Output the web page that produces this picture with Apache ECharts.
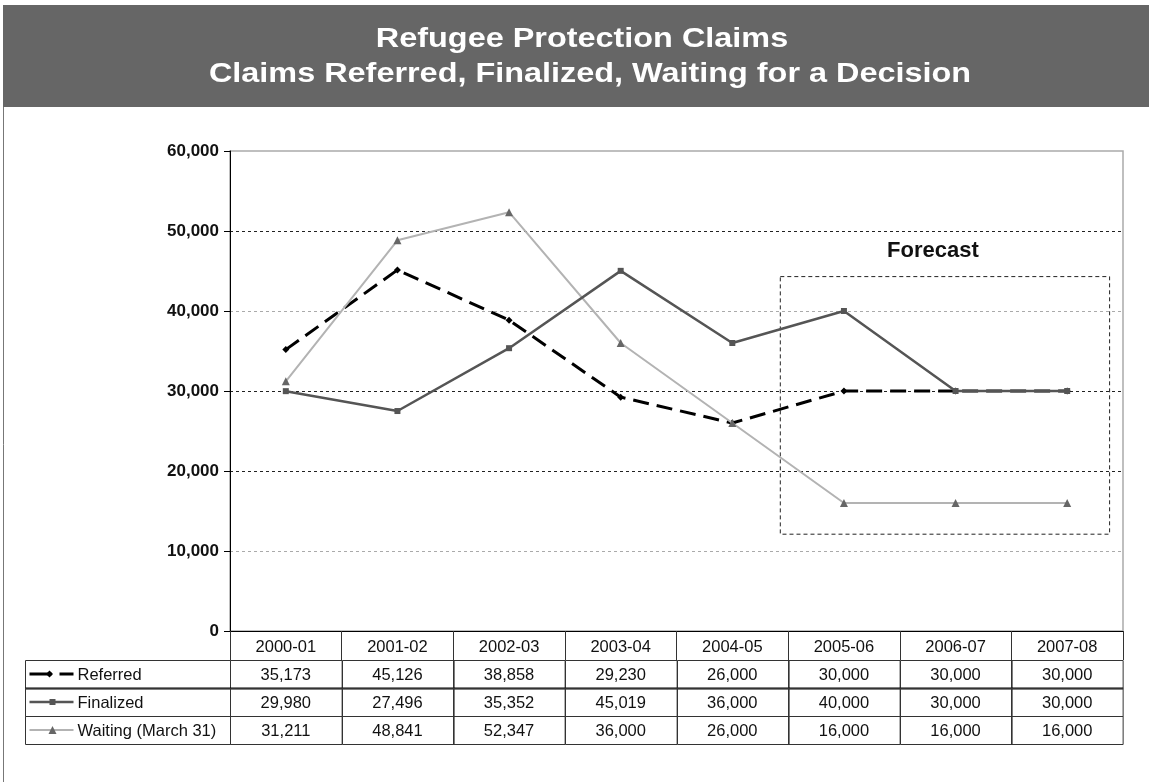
<!DOCTYPE html>
<html><head><meta charset="utf-8">
<script src="https://cdn.jsdelivr.net/npm/echarts@6/dist/echarts.min.js"></script>
<style>html,body{margin:0;padding:0;background:#fff}#c{width:1149px;height:782px}</style>
</head><body><div id="c"></div>
<script>
const titleLines = ['Refugee Protection Claims', 'Claims Referred, Finalized, Waiting for a Decision'];
const categories = ['2000-01','2001-02','2002-03','2003-04','2004-05','2005-06','2006-07','2007-08'];
const seriesNames = ['Referred','Finalized','Waiting (March 31)'];
const referred = [35173,45126,38858,29230,26000,30000,30000,30000];
const finalized = [29980,27496,35352,45019,36000,40000,30000,30000];
const waiting = [31211,48841,52347,36000,26000,16000,16000,16000];
const yTicks = {min:0, max:60000, interval:10000};
// forecast region in category-index units and values
const forecastX = [4.43, 7.38];
const forecastY = [12100, 44300];
const forecastLabel = 'Forecast';

const seriesValues = [referred, finalized, waiting];
const FONT = 'Liberation Sans, Arial, sans-serif';
const fmt = v => v.toLocaleString('en-US');

const styles = [
  {color:'#000', width:3, dash:[16,8], symbol:'diamond', symSize:7, symColor:'#000'},
  {color:'#555', width:2.5, dash:'solid', symbol:'rect', symSize:6, symColor:'#555'},
  {color:'#b3b3b3', width:2, dash:'solid', symbol:'triangle', symSize:8, symColor:'#666'}
];

const tableData = [];
seriesValues.forEach((arr, r) => arr.forEach((v, c) => tableData.push([c, r, v])));

const LABEL_W = 205;
const TFS = 16.5;

function markerShape(st, cx, cy) {
  const s = st.symSize/2;
  if (st.symbol === 'rect') return {type:'rect', shape:{x:cx-s,y:cy-s,width:2*s,height:2*s}, style:{fill:st.symColor}};
  if (st.symbol === 'triangle') return {type:'polygon', shape:{points:[[cx,cy-s],[cx+s,cy+s],[cx-s,cy+s]]}, style:{fill:st.symColor}};
  return {type:'polygon', shape:{points:[[cx,cy-s],[cx+s,cy],[cx,cy+s],[cx-s,cy]]}, style:{fill:st.symColor}};
}

function renderCell(params, api) {
  const c = api.value(0), r = api.value(1), v = api.value(2);
  const p = api.coord([c, r]);
  const s = api.size([1, 1]);
  const x0 = Math.round(p[0]-s[0]/2)+0.5, y0 = Math.round(p[1]-s[1]/2)+0.5;
  const w = s[0], h = s[1];
  const children = [
    {type:'rect', shape:{x:x0,y:y0,width:w,height:h}, style:{fill:'none', stroke:'#333', lineWidth:1}},
    {type:'text', style:{x:p[0], y:p[1]+1, text:fmt(v), align:'center', verticalAlign:'middle', fontSize:TFS, fontFamily:FONT, fill:'#111'}}
  ];
  if (c === 0) {
    const lx = x0 - LABEL_W;
    const st = styles[r];
    children.push({type:'rect', shape:{x:lx,y:y0,width:LABEL_W,height:h}, style:{fill:'none', stroke:'#333', lineWidth:1}});
    const cy = p[1];
    const dashed = st.dash !== 'solid';
    children.push({type:'line', shape:{x1:lx+4,y1:cy,x2:lx+48,y2:cy}, style:{stroke:st.color, lineWidth:st.width, lineDash: dashed ? [22,8] : null}});
    children.push(markerShape(st, dashed ? lx+24 : lx+27, cy));
    children.push({type:'text', style:{x:lx+52, y:cy+1, text:seriesNames[r], align:'left', verticalAlign:'middle', fontSize:TFS, fontFamily:FONT, fill:'#111'}});
  }
  if (r === 0) {
    children.push({type:'line', shape:{x1:x0 - (c===0?LABEL_W:0), y1:y0+h, x2:x0+w, y2:y0+h}, style:{stroke:'#000', lineWidth:2}});
  }
  return {type:'group', children};
}

const chart = echarts.init(document.getElementById('c'), null, {renderer:'canvas'});

const lineSeries = seriesNames.map((name, i) => ({
  name, type:'line', xAxisIndex:0, yAxisIndex:0,
  data: seriesValues[i],
  symbol: styles[i].symbol, symbolSize: styles[i].symSize,
  itemStyle:{color: styles[i].symColor},
  lineStyle:{color: styles[i].color, width: styles[i].width, type: styles[i].dash, cap:'butt'},
  emphasis:{disabled:true}, animation:false
}));
// draw order: Referred, Waiting, Finalized on top
lineSeries[0].z = 2; lineSeries[2].z = 3; lineSeries[1].z = 4;

chart.setOption({
  animation:false,
  graphic:[
    {type:'rect', z:-10, shape:{x:3, y:5, width:1146, height:102}, style:{fill:'#666666'}},
    {type:'line', z:-10, shape:{x1:3.5, y1:107, x2:3.5, y2:782}, style:{stroke:'#777', lineWidth:1}},
    {type:'text', z:10, x:582, y:40, scaleX:1.2, style:{x:0, y:0, text:titleLines[0], align:'center', verticalAlign:'middle', fill:'#fff', fontSize:27, fontWeight:'bold', fontFamily:FONT}},
    {type:'text', z:10, x:590, y:75, scaleX:1.2, style:{x:0, y:0, text:titleLines[1], align:'center', verticalAlign:'middle', fill:'#fff', fontSize:27, fontWeight:'bold', fontFamily:FONT}}
  ],
  grid:[
    {left:230, right:26, top:151, height:480, show:true, borderColor:'#aaa', borderWidth:1.5, backgroundColor:'transparent'},
    {left:230, right:26, top:660, height:84}
  ],
  xAxis:[
    {type:'category', gridIndex:0, data:categories, boundaryGap:true,
     axisLine:{onZero:false, lineStyle:{color:'#000', width:1}},
     axisTick:{show:true, length:29, alignWithLabel:false, interval:0, lineStyle:{color:'#333'}},
     axisLabel:{margin:8, fontSize:TFS, fontFamily:FONT, color:'#111', interval:0},
     splitLine:{show:false}},
    {type:'category', gridIndex:1, data:categories, show:false},
    {type:'value', gridIndex:0, min:-0.5, max:categories.length-0.5, show:false}
  ],
  yAxis:[
    {type:'value', gridIndex:0, min:yTicks.min, max:yTicks.max, interval:yTicks.interval,
     axisLine:{show:true, onZero:false, lineStyle:{color:'#000'}},
     axisTick:{show:true, length:6, lineStyle:{color:'#000'}},
     axisLabel:{margin:11, fontSize:17, fontWeight:'bold', fontFamily:FONT, color:'#111', formatter:v=>fmt(v)},
     splitLine:{show:true, lineStyle:{color:['transparent','#aaa','#222','#222','#aaa','#222','transparent'], type:[3,3], width:1}}},
    {type:'category', gridIndex:1, data:seriesNames, inverse:true, show:false}
  ],
  series:[
    ...lineSeries,
    {type:'custom', xAxisIndex:1, yAxisIndex:1, data:tableData, renderItem:renderCell, silent:true},
    {type:'line', xAxisIndex:2, yAxisIndex:0, data:[], silent:true,
     markArea:{silent:true,
       itemStyle:{color:'rgba(0,0,0,0)', borderColor:'#222', borderWidth:1, borderType:[4,3]},
       label:{show:true, position:'top', distance:14, offset:[-12,0], formatter:forecastLabel, fontSize:22, fontWeight:'bold', fontFamily:FONT, color:'#111'},
       data:[[{coord:[forecastX[0], forecastY[1]]}, {coord:[forecastX[1], forecastY[0]]}]]}}
  ]
});
</script></body></html>
